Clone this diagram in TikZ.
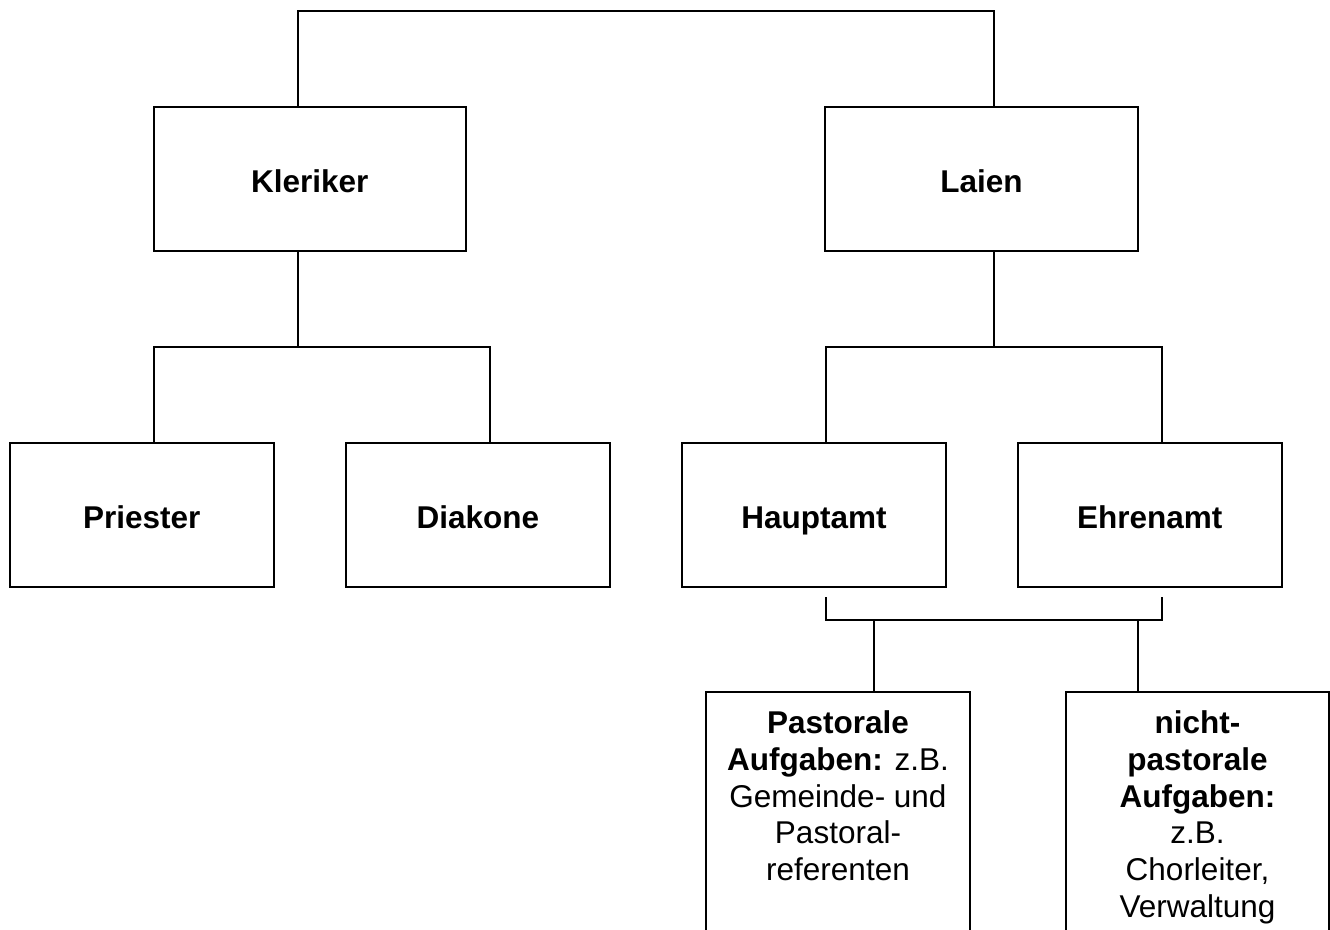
\documentclass[tikz,border=0pt]{standalone}
\usepackage{fontspec}
\setmainfont{Liberation Sans}
\begin{document}
\begin{tikzpicture}[x=1pt,y=-1pt,line width=1.9pt,
  box/.style={draw,rectangle,inner sep=0pt,minimum width=264pt,minimum height=144pt,
    font=\fontsize{31.5}{36.7}\selectfont\bfseries,text height=26pt,text depth=0pt},
  bigbox/.style={draw,rectangle,inner sep=0pt,minimum width=264pt,minimum height=280pt},
  btext/.style={inner sep=0pt,align=center,anchor=north,font=\fontsize{31.5}{36.7}\selectfont}]
\useasboundingbox (0,0) rectangle (1330,929);
\clip (0,0) rectangle (1330,929);
\node[box,minimum width=312.5pt] (kle) at (309.8,179) {Kleriker};
\node[box,minimum width=312.5pt] (lai) at (981.5,179) {Laien};
\node[box] (pri) at (141.7,515.3) {Priester};
\node[box] (dia) at (477.8,515.3) {Diakone};
\node[box] (hau) at (813.9,515.3) {Hauptamt};
\node[box] (ehr) at (1149.8,515.3) {Ehrenamt};
\node[bigbox,anchor=north] (pas) at (838,691) {};
\node[bigbox,anchor=north,minimum width=263pt] (np) at (1197.5,691) {};
\node[btext] (past) at ([yshift=-19pt]pas.north) {\textbf{Pastorale}\\\textbf{Aufgaben:} z.B.\\Gemeinde- und\\Pastoral-\\referenten};
\node[btext] (npt) at ([yshift=-19pt]np.north) {\textbf{nicht-}\\\textbf{pastorale}\\\textbf{Aufgaben:}\\z.B.\\Chorleiter,\\Verwaltung};
% top connector
\draw ([xshift=-12pt]kle.north) -- ++(0,-95.5) -| ([xshift=12.2pt]lai.north);
% Kleriker branch
\coordinate (kj) at ([xshift=-12pt]kle.south |- 0,347.3);
\draw ([xshift=-12pt]kle.south) -- (kj);
\draw ([xshift=12pt]pri.north) |- (kj) -| ([xshift=12pt]dia.north);
% Laien branch
\coordinate (lj) at ([xshift=12.2pt]lai.south |- 0,347.3);
\draw ([xshift=12.2pt]lai.south) -- (lj);
\draw ([xshift=12pt]hau.north) |- (lj) -| ([xshift=12pt]ehr.north);
% bracket below Hauptamt/Ehrenamt
\coordinate (bl) at ([xshift=12pt,yshift=-9pt]hau.south);
\coordinate (br) at ([xshift=12pt,yshift=-9pt]ehr.south);
\draw (bl) -- ++(0,23) -| (br);
\coordinate (b1) at (874,619);
\coordinate (b2) at (1138,619);
\draw (b1) -- (b1 |- pas.north);
\draw (b2) -- (b2 |- np.north);
\end{tikzpicture}
\end{document}
